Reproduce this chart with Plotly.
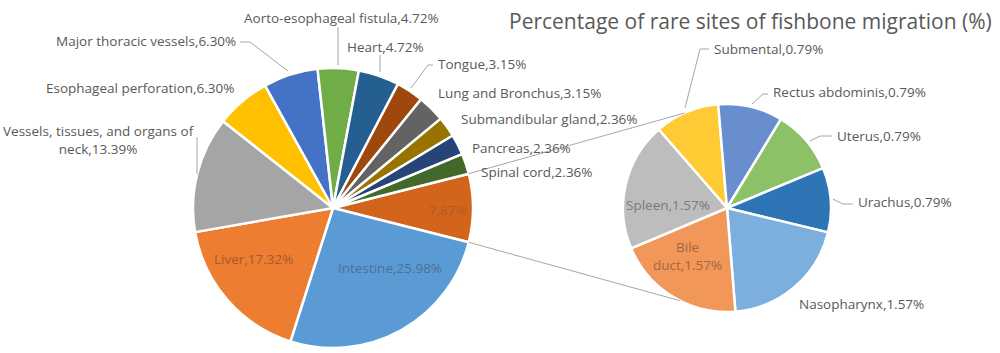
import plotly.graph_objects as go
import math

# ---------------- data ----------------
main_labels = ["Other", "Intestine", "Liver", "Vessels, tissues, and organs of neck",
               "Esophageal perforation", "Major thoracic vessels", "Aorto-esophageal fistula",
               "Heart", "Tongue", "Lung and Bronchus", "Submandibular gland", "Pancreas",
               "Spinal cord"]
main_values = [7.87, 25.98, 17.32, 13.39, 6.30, 6.30, 4.72, 4.72, 3.15, 3.15, 2.36, 2.36, 2.36]

sub_labels = ["Submental", "Rectus abdominis", "Uterus", "Urachus", "Nasopharynx",
              "Bile duct", "Spleen"]
sub_values = [0.79, 0.79, 0.79, 0.79, 1.57, 1.57, 1.57]

title_text = "Percentage of rare sites of fishbone migration (%)"

# ---------------- styles ----------------
main_colors = ["#D2641C", "#5B9BD5", "#ED7D31", "#A5A5A5", "#FFC000", "#4472C4", "#70AD47",
               "#255E91", "#9E480E", "#636363", "#997300", "#264478", "#43682B"]
sub_colors = ["#FFCA33", "#698ED0", "#8CC168", "#2E75B6", "#7CAFDD", "#F1975A", "#BDBDBD"]

W, H = 1000, 353
MAIN_C, MAIN_R = (333, 208), 140
SUB_C, SUB_R = (727, 208), 104
FONT = "Open Sans"
LABEL_SIZE = 13.5
TITLE_SIZE = 21
LABEL_COLOR = "#595959"
LINE_COLOR = "#A6A6A6"


def px(x):
    return x / W


def py(y):
    return 1 - y / H


# main pie: "Other" slice centred on 3 o'clock
other_span = 360 * main_values[0] / sum(main_values)
main_rotation = 90 - other_span / 2
sub_rotation = -41

fig = go.Figure()
fig.add_trace(go.Pie(
    labels=main_labels, values=main_values, sort=False, direction="clockwise",
    rotation=main_rotation, textinfo="none", hoverinfo="skip",
    marker=dict(colors=main_colors, line=dict(color="white", width=2.5)),
    domain=dict(x=[px(MAIN_C[0] - MAIN_R), px(MAIN_C[0] + MAIN_R)],
                y=[py(MAIN_C[1] + MAIN_R), py(MAIN_C[1] - MAIN_R)]),
    showlegend=False,
))
fig.add_trace(go.Pie(
    labels=sub_labels, values=sub_values, sort=False, direction="clockwise",
    rotation=sub_rotation, textinfo="none", hoverinfo="skip",
    marker=dict(colors=sub_colors, line=dict(color="white", width=2.5)),
    domain=dict(x=[px(SUB_C[0] - SUB_R), px(SUB_C[0] + SUB_R)],
                y=[py(SUB_C[1] + SUB_R), py(SUB_C[1] - SUB_R)]),
    showlegend=False,
))

# ---------------- labels ----------------
def fmt(name, v):
    return f"{name},{v:.2f}%"

main_txt = {l: fmt(l, v) for l, v in zip(main_labels, main_values)}
sub_txt = {l: fmt(l, v) for l, v in zip(sub_labels, sub_values)}
main_txt["Vessels, tissues, and organs of neck"] = "Vessels, tissues, and organs of<br>neck,%.2f%%" % main_values[3]
main_txt["Other"] = "%.2f%%" % main_values[0]
sub_txt["Bile duct"] = "Bile<br>duct,%.2f%%" % sub_values[5]

# (x, y, xanchor, color)
label_pos = {
    ("m", "Aorto-esophageal fistula"): (243, 18, "left", LABEL_COLOR),
    ("m", "Major thoracic vessels"): (237, 41, "right", LABEL_COLOR),
    ("m", "Heart"): (346, 47, "left", LABEL_COLOR),
    ("m", "Tongue"): (437, 64, "left", LABEL_COLOR),
    ("m", "Lung and Bronchus"): (437, 93, "left", LABEL_COLOR),
    ("m", "Submandibular gland"): (460, 119, "left", LABEL_COLOR),
    ("m", "Pancreas"): (471, 148, "left", LABEL_COLOR),
    ("m", "Spinal cord"): (480, 172, "left", LABEL_COLOR),
    ("m", "Esophageal perforation"): (235, 88, "right", LABEL_COLOR),
    ("m", "Vessels, tissues, and organs of neck"): (99, 140, "center", LABEL_COLOR),
    ("m", "Liver"): (253, 259, "center", "#A65A2C"),
    ("m", "Intestine"): (390, 268, "center", "#4F7095"),
    ("m", "Other"): (448, 210, "center", "#B25A1E"),
    ("s", "Submental"): (713, 49, "left", LABEL_COLOR),
    ("s", "Rectus abdominis"): (772, 92, "left", LABEL_COLOR),
    ("s", "Uterus"): (836, 136, "left", LABEL_COLOR),
    ("s", "Urachus"): (857, 202, "left", LABEL_COLOR),
    ("s", "Nasopharynx"): (798, 304, "left", LABEL_COLOR),
    ("s", "Spleen"): (668, 205, "center", "#7A7A7A"),
    ("s", "Bile duct"): (687, 256, "center", "#A8663C"),
}

annotations = []
for (which, name), (x, y, xa, col) in label_pos.items():
    txt = main_txt[name] if which == "m" else sub_txt[name]
    annotations.append(dict(
        x=px(x), y=py(y), xref="paper", yref="paper", xanchor=xa, yanchor="middle",
        text=txt, showarrow=False, align="center", borderpad=0,
        font=dict(family=FONT, size=LABEL_SIZE, color=col),
    ))

annotations.append(dict(
    x=px(508), y=py(21), xref="paper", yref="paper", xanchor="left", yanchor="middle",
    text=title_text, showarrow=False, borderpad=0,
    font=dict(family=FONT, size=TITLE_SIZE, color=LABEL_COLOR),
))

# ---------------- leader lines ----------------
leaders = [
    [(240, 42), (250, 42), (288, 71)],
    [(338, 27), (338, 65)],
    [(380, 55), (380, 72)],
    [(433, 65), (428, 65), (411, 88)],
    [(197, 137), (197, 174)],
    [(709, 49), (700, 49), (685, 108)],
    [(768, 94), (763, 94), (752, 104)],
    [(832, 136), (820, 136), (810, 141)],
    [(853, 204), (843, 204), (833, 199)],
]

shapes = []
for pts in leaders:
    path = "M " + " L ".join(f"{px(x)},{py(y)}" for x, y in pts)
    shapes.append(dict(type="path", path=path, xref="paper", yref="paper",
                       line=dict(color=LINE_COLOR, width=1)))

# pie-of-pie connectors computed from the "Other" slice edges
half = math.radians(other_span / 2)
for sign, sub_ang in ((1, 114), (-1, -117)):
    x0 = MAIN_C[0] + MAIN_R * math.cos(half)
    y0 = MAIN_C[1] - sign * MAIN_R * math.sin(half)
    a = math.radians(sub_ang)
    x1 = SUB_C[0] + SUB_R * math.cos(a)
    y1 = SUB_C[1] - SUB_R * math.sin(a)
    shapes.append(dict(type="line", xref="paper", yref="paper",
                       x0=px(x0), y0=py(y0), x1=px(x1), y1=py(y1),
                       line=dict(color=LINE_COLOR, width=1)))

fig.update_layout(
    width=W, height=H, margin=dict(l=0, r=0, t=0, b=0),
    paper_bgcolor="white", plot_bgcolor="white",
    annotations=annotations, shapes=shapes,
)

fig.write_html("out.html")
